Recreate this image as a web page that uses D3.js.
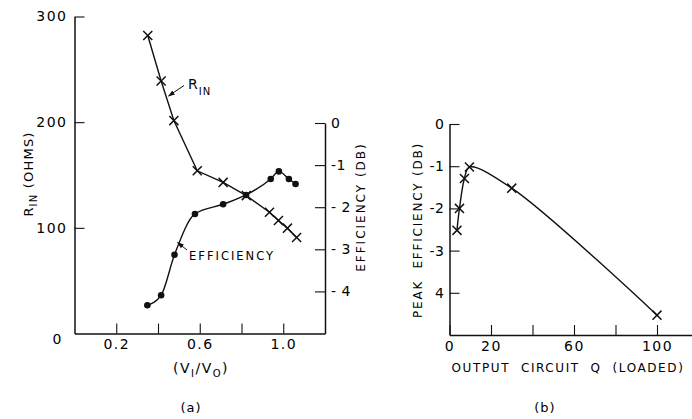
<!DOCTYPE html>
<html><head><meta charset="utf-8">
<script src="https://cdn.jsdelivr.net/npm/d3@7"></script>
<style>
body{margin:0;background:#fff;}
svg{display:block;font-family:"DejaVu Sans",sans-serif;}
text{fill:#000;}
</style></head>
<body><svg id="c" width="692" height="419"></svg>
<script>
// ---- Panel (a) data ----
const rinX   = [0.351, 0.415, 0.476, 0.588, 0.712, 0.823, 0.934, 0.977, 1.020, 1.064];
const rinVal = [282, 239, 201.5, 154, 143, 130.5, 114.8, 107, 99.7, 90.8];
const effX   = [0.349, 0.415, 0.479, 0.577, 0.712, 0.822, 0.940, 0.979, 1.027, 1.059];
const effVal = [-4.33, -4.09, -3.13, -2.16, -1.93, -1.71, -1.33, -1.15, -1.33, -1.45];
const aXTicks = [0.2, 0.4, 0.6, 0.8, 1.0];
const aXTickLabels = ["0.2", "", "0.6", "", "1.0"];
const aLeftTicks = [100, 200, 300];
const aLeftTickLabels = ["100", "200", "300"];
const aRightTicks = [-4, -3, -2, -1, 0];
const aRightTickLabels = ["- 4", "- 3", "- 2", "-1", "0"];
// ---- Panel (b) data ----
const qX   = [3.6, 4.8, 7.2, 9.6, 30, 100];
const qEff = [-2.52, -2.0, -1.29, -1.02, -1.52, -4.53];
const bXTicks = [0, 20, 40, 60, 80, 100];
const bXTickLabels = ["0", "20", "", "60", "", "100"];
const bYTicks = [-4, -3, -2, -1, 0];
const bYTickLabels = ["4", "-3", "-2", "-1", "0"];

const svg = d3.select("#c");
const ink = "#111";

// scales
const xA  = d3.scaleLinear().domain([0, 1.2]).range([74.5, 325]);
const yR  = d3.scaleLinear().domain([0, 300]).range([333.5, 16.5]);
const yE  = d3.scaleLinear().domain([-5, 0]).range([333.5, 123]);
const xQ  = d3.scaleLinear().domain([0, 120]).range([449.5, 698.5]);
const yP  = d3.scaleLinear().domain([-5, 0]).range([335, 124]);

function styleAxis(g, fs, ls){
  g.selectAll("path.domain").attr("stroke", ink).attr("stroke-width", 1.5);
  g.selectAll(".tick line").attr("stroke", ink).attr("stroke-width", 1.1);
  g.selectAll(".tick text").attr("font-family", "DejaVu Sans").attr("font-size", fs)
    .attr("letter-spacing", ls).attr("fill", ink);
}

// ---- Panel (a) axes ----
const gAL = svg.append("g").attr("transform", `translate(${xA(0)},0)`)
  .call(d3.axisLeft(yR).tickValues(aLeftTicks).tickSize(-10).tickSizeOuter(0).tickPadding(7)
    .tickFormat((d,i) => aLeftTickLabels[i]));
styleAxis(gAL, 14, 1.5);
svg.append("text").attr("x", 57).attr("y", 344).attr("text-anchor", "middle")
  .attr("font-size", 14).text("0");

const gAB = svg.append("g").attr("transform", `translate(0,${yR(0)})`)
  .call(d3.axisBottom(xA).tickValues(aXTicks).tickSize(-10).tickSizeOuter(0).tickPadding(6)
    .tickFormat((d,i) => aXTickLabels[i]));
styleAxis(gAB, 14, 1.5);

const gAR = svg.append("g").attr("transform", `translate(${xA(1.2)},0)`)
  .call(d3.axisRight(yE).tickValues(aRightTicks).tickSize(-10).tickSizeOuter(0).tickPadding(6)
    .tickFormat((d,i) => aRightTickLabels[i]));
styleAxis(gAR, 14, 0.5);

// axis titles (a)
const t1 = svg.append("text").attr("transform", "translate(33,174) rotate(-90)")
  .attr("text-anchor", "middle").attr("font-size", 13).attr("letter-spacing", 1.2);
t1.append("tspan").text("R");
t1.append("tspan").attr("dy", 4).attr("font-size", 10).text("IN");
t1.append("tspan").attr("dy", -4).text(" (OHMS)");

svg.append("text").attr("transform", "translate(365,207) rotate(-90)")
  .attr("text-anchor", "middle").attr("font-size", 12).attr("letter-spacing", 2)
  .text("EFFICIENCY (DB)");

const t2 = svg.append("text").attr("x", 201).attr("y", 373).attr("text-anchor", "middle")
  .attr("font-size", 14).attr("letter-spacing", 1.5);
t2.append("tspan").text("(V");
t2.append("tspan").attr("dy", 4).attr("font-size", 10).text("I");
t2.append("tspan").attr("dy", -4).text("/V");
t2.append("tspan").attr("dy", 4).attr("font-size", 10).text("O");
t2.append("tspan").attr("dy", -4).text(")");

svg.append("text").attr("x", 191).attr("y", 412).attr("text-anchor", "middle")
  .attr("font-size", 13).attr("letter-spacing", 1).text("(a)");

// curves (a)
const rinPts = rinX.map((x,i) => [xA(x), yR(rinVal[i])]);
const effPts = effX.map((x,i) => [xA(x), yE(effVal[i])]);
svg.append("path").attr("d", d3.line()(rinPts))
  .attr("fill", "none").attr("stroke", ink).attr("stroke-width", 1.4);
svg.append("path").attr("d", d3.line().curve(d3.curveMonotoneX)(effPts))
  .attr("fill", "none").attr("stroke", ink).attr("stroke-width", 1.4);

const xSym = d3.symbol().type(d3.symbolTimes).size(55);
svg.selectAll(".rx").data(rinPts).join("path")
  .attr("transform", d => `translate(${d[0]},${d[1]})`).attr("d", xSym)
  .attr("fill", "none").attr("stroke", ink).attr("stroke-width", 1.5);
svg.selectAll(".ed").data(effPts).join("circle")
  .attr("cx", d => d[0]).attr("cy", d => d[1]).attr("r", 3.3).attr("fill", ink);

// annotations (a)
const defs = svg.append("defs");
defs.append("marker").attr("id", "ah").attr("viewBox", "0 0 10 10").attr("refX", 9).attr("refY", 5)
  .attr("markerWidth", 7).attr("markerHeight", 7).attr("orient", "auto")
  .append("path").attr("d", "M0,1.5 L10,5 L0,8.5 Z").attr("fill", ink);

const rl = svg.append("text").attr("x", 188).attr("y", 89).attr("font-size", 14).attr("letter-spacing", 1);
rl.append("tspan").text("R");
rl.append("tspan").attr("dy", 6).attr("font-size", 10).text("IN");
svg.append("line").attr("x1", 184).attr("y1", 85.5).attr("x2", 168.5).attr("y2", 96)
  .attr("stroke", ink).attr("stroke-width", 1).attr("marker-end", "url(#ah)");

svg.append("text").attr("x", 189).attr("y", 260).attr("font-size", 11.5).attr("letter-spacing", 2)
  .text("EFFICIENCY");
svg.append("line").attr("x1", 187).attr("y1", 250).attr("x2", 177.5).attr("y2", 242.5)
  .attr("stroke", ink).attr("stroke-width", 1).attr("marker-end", "url(#ah)");

// ---- Panel (b) ----
const gBL = svg.append("g").attr("transform", `translate(${xQ(0)},0)`)
  .call(d3.axisLeft(yP).tickValues(bYTicks).tickSize(-10).tickSizeOuter(0).tickPadding(5)
    .tickFormat((d,i) => bYTickLabels[i]));
styleAxis(gBL, 14, 0.5);

const gBB = svg.append("g").attr("transform", `translate(0,${yP(-5)})`)
  .call(d3.axisBottom(xQ).tickValues(bXTicks).tickSize(-10).tickSizeOuter(0).tickPadding(6)
    .tickFormat((d,i) => bXTickLabels[i]));
styleAxis(gBB, 14, 1.5);

svg.append("text").attr("transform", "translate(422,230) rotate(-90)")
  .attr("text-anchor", "middle").attr("font-size", 12).attr("letter-spacing", 1.8)
  .style("white-space", "pre")
  .text("PEAK  EFFICIENCY (DB)");

svg.append("text").attr("x", 568).attr("y", 372).attr("text-anchor", "middle")
  .attr("font-size", 12).attr("letter-spacing", 1.6).style("white-space", "pre")
  .text("OUTPUT  CIRCUIT  Q  (LOADED)");

svg.append("text").attr("x", 545).attr("y", 412).attr("text-anchor", "middle")
  .attr("font-size", 13).attr("letter-spacing", 1).text("(b)");

const qPts = qX.map((x,i) => [xQ(x), yP(qEff[i])]);
svg.append("path").attr("d", d3.line().curve(d3.curveCatmullRom.alpha(0.5))(qPts))
  .attr("fill", "none").attr("stroke", ink).attr("stroke-width", 1.4);
svg.selectAll(".qx").data(qPts).join("path")
  .attr("transform", d => `translate(${d[0]},${d[1]})`).attr("d", xSym)
  .attr("fill", "none").attr("stroke", ink).attr("stroke-width", 1.5);
</script></body></html>
